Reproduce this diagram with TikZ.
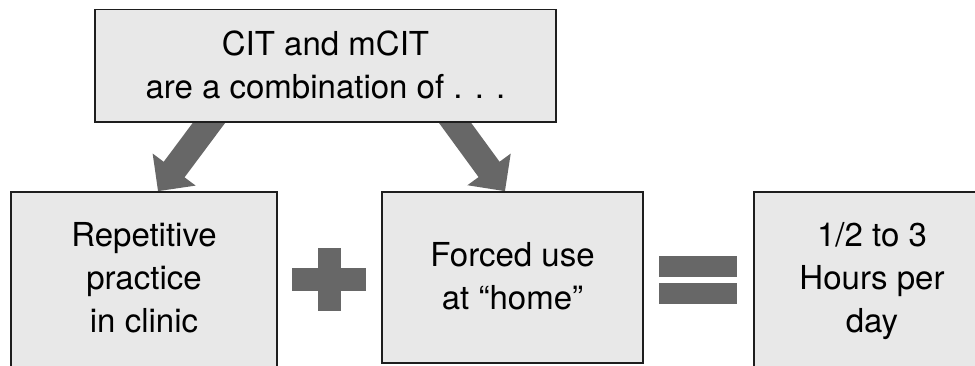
\documentclass[tikz,border=0pt]{standalone}
\usepackage{fontspec}
\setmainfont{TeX Gyre Heros}
\usetikzlibrary{arrows.meta}
\pgfdeclarelayer{back}
\pgfsetlayers{back,main}
\definecolor{boxfill}{HTML}{E8E8E8}
\definecolor{boxline}{HTML}{1E1E1E}
\definecolor{symgray}{HTML}{676767}
\tikzset{
  panel/.style={draw=boxline, line width=1.6pt, fill=boxfill, rectangle, inner sep=0pt},
  paneltext/.style={font=\fontsize{33}{43}\selectfont, align=center, inner sep=0pt, text=black},
  opbar/.style={fill=symgray, rectangle, inner sep=0pt},
  fatarrow/.style={draw=symgray, line width=26pt, shorten <=-15pt,
    -{Triangle[width=52pt,length=27pt]}, color=symgray},
}
\begin{document}
\begin{tikzpicture}[x=1pt, y=-1pt]
  \useasboundingbox (0,0) rectangle (975,365);
  \clip (0,0) rectangle (975,365);

  % top statement
  \node[panel, minimum width=461pt, minimum height=112.5pt] (top) at (325.5,65.75) {};
  \node[paneltext] (toptxt) at (325.5,64.5) {CIT and mCIT\\are a combination of . . .};

  % the three lower panels
  \node[panel, minimum width=266pt, minimum height=220pt] (rep) at (144,302) {};
  \node[paneltext] (reptxt) at (144,278) {Repetitive\\practice\\in clinic};

  \node[panel, minimum width=261pt, minimum height=171pt] (home) at (512.5,277.5) {};
  \node[paneltext] (hometxt) at (512.5,276.5) {Forced use\\at “home”};

  \node[panel, minimum width=236pt, minimum height=220pt] (hours) at (872,302) {};
  \node[paneltext] (hourstxt) at (872,281.5) {1/2 to 3\\Hours per\\day};

  % plus sign
  \node[opbar, minimum width=74pt, minimum height=23pt] (plush) at (329,279.5) {};
  \node[opbar, minimum width=23pt, minimum height=63pt] (plusv) at (329.5,279.5) {};

  % equals sign
  \node[opbar, minimum width=78pt, minimum height=21pt] (equpper) at (698,266.5) {};
  \node[opbar, minimum width=78pt, minimum height=21pt] (eqlower) at (698,293.5) {};

  % thick arrows leaving the top panel
  \begin{pgfonlayer}{back}
    \draw[fatarrow] ([xshift=-116.5pt]top.south) -- ([xshift=14pt]rep.north);
    \draw[fatarrow] ([xshift=129.5pt]top.south) -- ([xshift=-7.5pt]home.north);
  \end{pgfonlayer}
\end{tikzpicture}
\end{document}
